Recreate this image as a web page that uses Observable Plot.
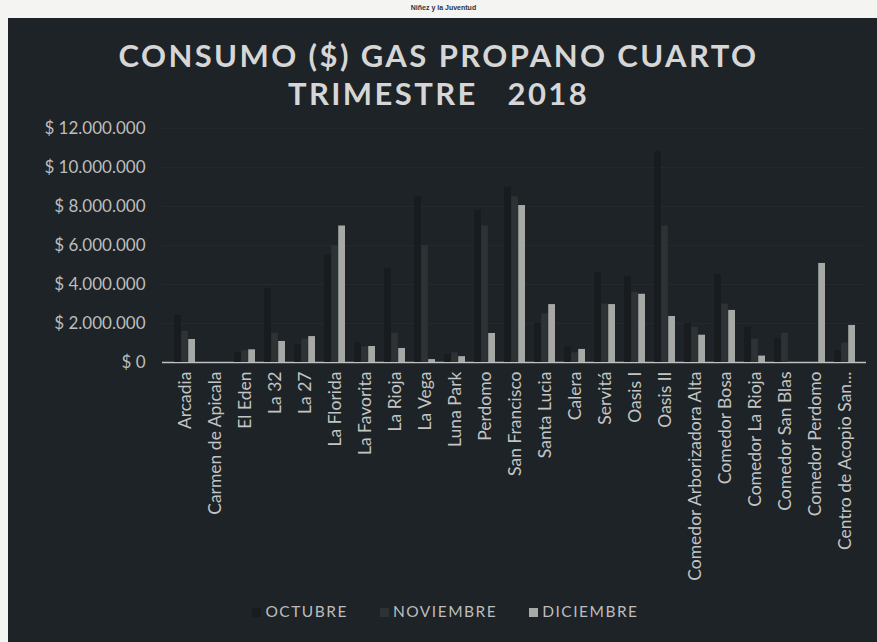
<!DOCTYPE html>
<html>
<head>
<meta charset="utf-8">
<script src="https://cdn.jsdelivr.net/npm/d3@7"></script>
<script src="https://cdn.jsdelivr.net/npm/@observablehq/plot@0.6"></script>
<style>
  html, body { margin: 0; padding: 0; background: #f4f4f2; }
  #page { position: relative; width: 877px; height: 642px; overflow: hidden; background: #f4f4f2; }
  #panel { position: absolute; left: 8px; top: 18px; width: 869px; height: 624px; background: #1d2326; }
  #header { position: absolute; left: 0; top: 4px; width: 877px; text-align: center; font: 600 7px "Liberation Sans", sans-serif; color: #333; padding-left: 10px; box-sizing: border-box; }
  .title { position: absolute; left: 0; width: 877px; text-align: center; font: 700 31px/37px "Lato", sans-serif; color: #d6d6d6; letter-spacing: 2.4px; white-space: pre; }
  #t1 { top: 37px; }
  #t2 { top: 75px; }
  #chart { position: absolute; left: 0; top: 110px; }
  #legend { position: absolute; left: 0; top: 602px; width: 877px; text-align: center; font: 15.5px "Lato", sans-serif; color: #bdbdbd; letter-spacing: 1.5px; padding-left: 14px; box-sizing: border-box; }
  #legend span.item { margin: 0 16px; }
  #legend span.sw { display: inline-block; width: 9px; height: 9px; margin-right: 4px; vertical-align: 0px; }
</style>
</head>
<body>
<div id="page">
  <div id="panel"></div>
  <div id="header">Niñez y la Juventud</div>
  <div class="title" id="t1">CONSUMO ($) GAS PROPANO CUARTO</div>
  <div class="title" id="t2">TRIMESTRE   2018</div>
  <div id="chart"></div>
  <div id="legend"></div>
</div>
<script>
const categories = ["Arcadia","Carmen de Apicala","El Eden","La 32","La 27","La Florida","La Favorita","La Rioja","La Vega","Luna Park","Perdomo","San Francisco","Santa Lucia","Calera","Servitá","Oasis I","Oasis II","Comedor Arborizadora Alta","Comedor Bosa","Comedor La Rioja","Comedor San Blas","Comedor Perdomo","Centro de Acopio San..."];
const series = ["OCTUBRE","NOVIEMBRE","DICIEMBRE"];
const octubre   = [2400000, 0, 500000, 3800000, 900000, 5500000, 1000000, 4800000, 8500000, 400000, 7800000, 9000000, 2000000, 800000, 4600000, 4400000, 10800000, 2000000, 4500000, 1800000, 1200000, 0, 600000];
const noviembre = [1600000, 0, 600000, 1500000, 1200000, 6000000, 800000, 1500000, 6000000, 500000, 7000000, 8500000, 2500000, 500000, 3000000, 3600000, 7000000, 1800000, 3000000, 1200000, 1500000, 0, 1000000];
const diciembre = [1180000, 0, 650000, 1080000, 1330000, 7000000, 820000, 720000, 150000, 300000, 1490000, 8050000, 2970000, 670000, 2970000, 3500000, 2360000, 1400000, 2670000, 330000, 0, 5080000, 1900000];
const yTicks = [0, 2000000, 4000000, 6000000, 8000000, 10000000, 12000000];
const colors = ["#181c1f", "#2d3235", "#a6a9a6"];

const values = [octubre, noviembre, diciembre];
const data = [];
series.forEach((s, i) => categories.forEach((c, j) => data.push({cat: c, serie: s, value: values[i][j]})));

const locale = d3.formatLocale({decimal: ",", thousands: ".", grouping: [3], currency: ["$ ", ""]});
const fmt = locale.format("$,.0f");

const W = 877, H = 480, mL = 162, mR = 11, mT = 18, mB = 228;
const pInner = 0.3, pOuter = 0.2;
const xs = Plot.scale({x: {type: "band", domain: categories, range: [mL, W - mR], paddingInner: pInner, paddingOuter: pOuter}});
const bw = xs.bandwidth;
const third = bw / 3;

const marks = [
  Plot.gridY(yTicks, {stroke: "#3a4144", strokeOpacity: 0.2}),
  Plot.ruleY([0], {stroke: "#bfc2bf", strokeWidth: 1.3})
];
series.forEach((s, i) => {
  marks.push(Plot.barY(data.filter(d => d.serie === s), {
    x: "cat", y: "value", fill: colors[i],
    insetLeft: i * third, insetRight: (2 - i) * third
  }));
});
marks.push(Plot.axisY({ticks: yTicks, tickFormat: fmt, tickSize: 0, tickPadding: 17, fontSize: 17, fill: "#bdbdbd", style: {letterSpacing: "0.6px"}}));
marks.push(Plot.axisX({tickRotate: -90, tickSize: 0, tickPadding: 9, fontSize: 17.5, fill: "#c4c4c4"}));

const plot = Plot.plot({
  width: W, height: H,
  marginLeft: mL, marginRight: mR, marginTop: mT, marginBottom: mB,
  style: {background: "transparent", fontFamily: "Lato, sans-serif", color: "#c4c4c4"},
  x: {type: "band", domain: categories, paddingInner: pInner, paddingOuter: pOuter, label: null},
  y: {domain: [0, 12000000], label: null},
  marks
});
document.getElementById("chart").appendChild(plot);

const legend = document.getElementById("legend");
series.forEach((s, i) => {
  const item = document.createElement("span");
  item.className = "item";
  const sw = document.createElement("span");
  sw.className = "sw";
  sw.style.background = colors[i];
  item.appendChild(sw);
  item.appendChild(document.createTextNode(s));
  legend.appendChild(item);
});
</script>
</body>
</html>
